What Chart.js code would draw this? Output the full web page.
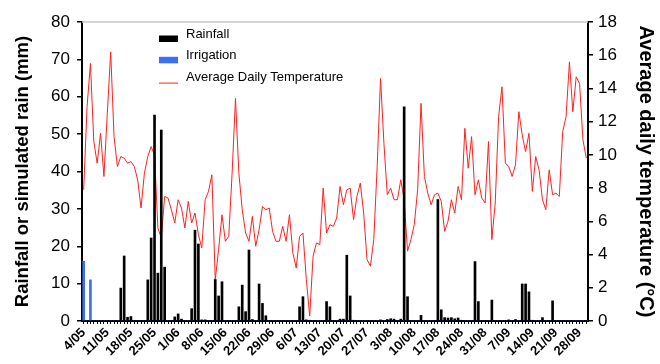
<!DOCTYPE html>
<html>
<head>
<meta charset="utf-8">
<script src="https://cdn.jsdelivr.net/npm/chart.js@4.4.0/dist/chart.umd.min.js"></script>
<style>
    body { margin: 0; background: #fff; }
    #wrap { width: 660px; height: 364px; }
</style>
</head>
<body>
<div id="wrap"><canvas id="rainChart" width="660" height="364"></canvas></div>
<script>
// daily series, 4 May -> 30 September
const startDate = new Date(2000, 4, 4);
const nbDays = 150;

// rainfall (mm)
const rainfall = [
    0, 0, 0, 0, 0, 0, 0, 0, 0, 0,
    0, 8.8, 17.4, 1.0, 1.2, 0, 0, 0, 0, 11.0,
    22.2, 55.1, 12.8, 51.1, 14.4, 0, 0, 1.1, 1.9, 0.5,
    0, 0, 3.3, 24.3, 20.6, 0.3, 0.3, 0, 0, 11.1,
    6.7, 10.5, 0, 0, 0, 0, 3.8, 9.6, 2.5, 19.0,
    0.4, 0, 9.9, 4.7, 1.4, 0, 0, 0, 0, 0,
    0, 0, 0, 0, 3.8, 6.5, 0.3, 0.2, 0, 0,
    0, 0, 5.2, 3.8, 0, 0, 0.5, 0.5, 17.6, 6.7,
    0.2, 0, 0, 0, 0, 0, 0, 0, 0.3, 0,
    0.4, 0.6, 0.5, 0, 0.5, 57.3, 6.5, 0, 0, 0,
    1.5, 0, 0, 0, 0, 32.5, 3.0, 0.9, 0.8, 0.9,
    0.6, 0.8, 0.2, 0, 0, 0, 15.9, 5.2, 0, 0,
    0, 5.6, 0, 0, 0, 0, 0.3, 0, 0.4, 0,
    9.9, 9.9, 7.8, 0.2, 0, 0, 0.9, 0, 0, 5.4,
    0, 0, 0, 0, 0, 0, 0, 0, 0, 0
];

// irrigation / simulated rain (mm)
const irrigation = [
    16, 0, 11, 0, 0, 0, 0, 0, 0, 0,
    0, 0, 0, 0, 0, 0, 0, 0, 0, 0,
    0, 0, 0, 0, 0, 0, 0, 0, 0, 0,
    0, 0, 0, 0, 0, 0, 0, 0, 0, 0,
    0, 0, 0, 0, 0, 0, 0, 0, 0, 0,
    0, 0, 0, 0, 0, 0, 0, 0, 0, 0,
    0, 0, 0, 0, 0, 0, 0, 0, 0, 0,
    0, 0, 0, 0, 0, 0, 0, 0, 0, 0,
    0, 0, 0, 0, 0, 0, 0, 0, 0, 0,
    0, 0, 0, 0, 0, 0, 0, 0, 0, 0,
    0, 0, 0, 0, 0, 0, 0, 0, 0, 0,
    0, 0, 0, 0, 0, 0, 0, 0, 0, 0,
    0, 0, 0, 0, 0, 0, 0, 0, 0, 0,
    0, 0, 0, 0, 0, 0, 0, 0, 0, 0,
    0, 0, 0, 0, 0, 0, 0, 0, 0, 0
];

// average daily temperature (°C)
const temperature = [
    7.9, 12.9, 15.5, 10.8, 9.5, 11.3, 8.7, 12.5, 16.2, 11.1,
    9.3, 9.9, 9.8, 9.5, 9.6, 9.3, 8.5, 6.8, 8.9, 9.9,
    10.5, 10.0, 5.6, 5.0, 7.5, 7.4, 6.7, 5.9, 7.3, 6.8,
    5.6, 7.2, 5.9, 6.5, 5.2, 4.4, 7.3, 7.8, 8.8, 2.5,
    4.3, 6.4, 4.8, 5.1, 8.9, 13.4, 8.9, 6.7, 5.3, 4.8,
    6.3, 4.5, 5.5, 6.9, 6.7, 6.8, 5.4, 4.8, 4.8, 5.7,
    4.8, 6.4, 4.1, 3.2, 5.1, 5.3, 2.5, 0.3, 3.9, 4.7,
    4.6, 8.0, 5.3, 5.8, 5.7, 6.2, 8.1, 7.0, 7.9, 8.0,
    6.1, 7.5, 8.3, 6.5, 3.7, 3.3, 4.9, 9.3, 14.6, 10.7,
    7.6, 8.0, 7.3, 7.3, 8.5, 7.3, 4.2, 4.9, 5.8, 7.9,
    13.1, 8.7, 7.7, 7.0, 7.6, 7.7, 7.2, 5.4, 6.0, 7.3,
    6.5, 8.1, 7.3, 11.6, 9.2, 11.1, 7.6, 8.5, 7.4, 7.1,
    10.8, 4.9, 7.1, 12.3, 14.1, 9.5, 9.3, 8.7, 9.4, 12.6,
    11.2, 10.2, 11.3, 7.8, 9.9, 9.1, 7.3, 6.7, 9.1, 7.6,
    7.7, 7.5, 11.4, 12.3, 15.6, 12.6, 14.7, 14.3, 10.9, 9.8
];

// day labels "d/mm", one tick label every 7 days
const days = [];
for (let i = 0; i < nbDays; i++) {
    const d = new Date(startDate.getFullYear(), startDate.getMonth(), startDate.getDate() + i);
    days.push(d.getDate() + '/' + String(d.getMonth() + 1).padStart(2, '0'));
}
const labelEvery = 7;

const FONT = "'Liberation Sans', Arial, Helvetica, sans-serif";

// legend stacked inside the plot + grey top frame line
const legendInPlot = {
    id: 'legendInPlot',
    beforeDatasetsDraw(chart) {
        const ctx = chart.ctx;
        const a = chart.chartArea;
        ctx.save();
        ctx.strokeStyle = '#c8c8c8';
        ctx.lineWidth = 1.5;
        ctx.beginPath();
        ctx.moveTo(a.left, a.top);
        ctx.lineTo(a.right, a.top);
        ctx.stroke();
        ctx.restore();
    },
    afterDraw(chart) {
        const ctx = chart.ctx;
        const x0 = 159, y0 = 38.5, rowH = 21.3;
        ctx.save();
        ctx.font = '13px ' + FONT;
        ctx.fillStyle = '#000';
        ctx.textBaseline = 'middle';
        chart.data.datasets.forEach((ds, i) => {
            const y = y0 + i * rowH;
            if (ds.type === 'line') {
                ctx.strokeStyle = ds.borderColor;
                ctx.lineWidth = 1;
                ctx.beginPath();
                ctx.moveTo(x0, y + 2);
                ctx.lineTo(x0 + 19, y + 2);
                ctx.stroke();
            } else {
                ctx.fillStyle = ds.backgroundColor;
                ctx.fillRect(x0, y - 3, 19, 6.5);
            }
            ctx.fillStyle = '#000';
            ctx.fillText(ds.label, x0 + 27, y - 4);
        });
        ctx.restore();
    }
};

const ctx = document.getElementById('rainChart').getContext('2d');
new Chart(ctx, {
    data: {
        labels: days,
        datasets: [{
            type: 'bar',
            label: 'Rainfall',
            data: rainfall,
            backgroundColor: '#000000',
            barThickness: 2,
            grouped: false,
            yAxisID: 'y',
            order: 0
        }, {
            type: 'bar',
            label: 'Irrigation',
            data: irrigation,
            backgroundColor: '#3a6ff8',
            barThickness: 2,
            grouped: false,
            yAxisID: 'y',
            order: 0
        }, {
            type: 'line',
            label: 'Average Daily Temperature',
            data: temperature,
            borderColor: '#ff2020',
            borderWidth: 1,
            pointRadius: 0,
            tension: 0,
            yAxisID: 'y2',
            order: 1
        }]
    },
    options: {
        responsive: false,
        animation: false,
        layout: { padding: { top: 22 } },
        plugins: {
            legend: { display: false },
            tooltip: { enabled: false }
        },
        scales: {
            x: {
                offset: true,
                grid: { drawOnChartArea: false, offset: false, tickLength: 3, color: '#000', lineWidth: 1 },
                border: { color: '#000', width: 2 },
                ticks: {
                    autoSkip: false,
                    minRotation: 45,
                    maxRotation: 45,
                    padding: 1,
                    color: '#000',
                    font: { family: FONT, size: 13, weight: 'bold' },
                    callback: (v, i) => i % labelEvery === 0 ? days[i] : ''
                },
                afterFit: s => { s.height = 43; }
            },
            y: {
                position: 'left',
                min: 0,
                max: 80,
                grid: { drawOnChartArea: false, tickLength: 5, color: '#000', lineWidth: 1.5 },
                border: { color: '#000', width: 2 },
                ticks: { stepSize: 10, padding: 7, color: '#000', font: { family: FONT, size: 17 } },
                title: {
                    display: true,
                    text: 'Rainfall or simulated rain (mm)',
                    color: '#000',
                    font: { family: FONT, size: 18.5, weight: 'bold' },
                    padding: { top: 12, bottom: 0 }
                },
                afterFit: s => { s.width = 82; }
            },
            y2: {
                position: 'right',
                min: 0,
                max: 18,
                grid: { drawOnChartArea: false, tickLength: 5, color: '#000', lineWidth: 1.5 },
                border: { color: '#000', width: 2 },
                ticks: { stepSize: 2, padding: 5, color: '#000', font: { family: FONT, size: 17 } },
                title: {
                    display: true,
                    text: 'Average daily temperature (°C)',
                    color: '#000',
                    font: { family: FONT, size: 20, weight: 'bold' },
                    padding: { top: 2, bottom: 0 }
                },
                afterFit: s => { s.width = 72; }
            }
        }
    },
    plugins: [legendInPlot]
});
</script>
</body>
</html>
